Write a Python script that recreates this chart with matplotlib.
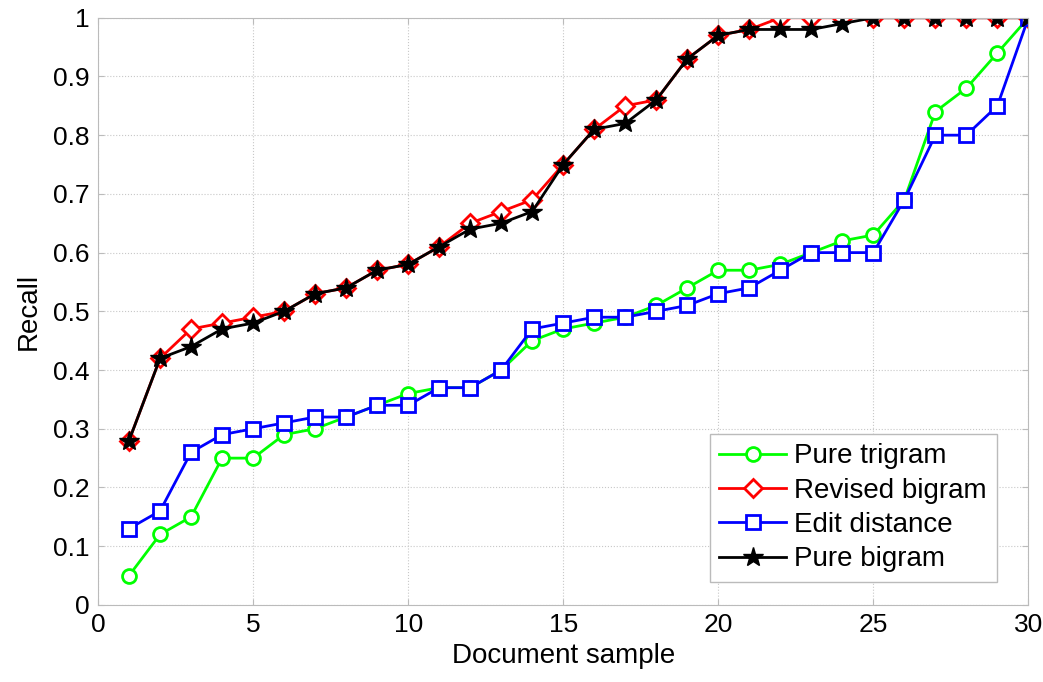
import numpy as np
import matplotlib.pyplot as plt

plt.rcParams["font.family"] = ["Liberation Sans", "DejaVu Sans"]
plt.rcParams["font.size"] = 20

doc = np.arange(1, 31)
pure_trigram = [0.05, 0.12, 0.15, 0.25, 0.25, 0.29, 0.30, 0.32, 0.34, 0.36,
                0.37, 0.37, 0.40, 0.45, 0.47, 0.48, 0.49, 0.51, 0.54, 0.57,
                0.57, 0.58, 0.60, 0.62, 0.63, 0.69, 0.84, 0.88, 0.94, 1.00]
revised_bigram = [0.28, 0.42, 0.47, 0.48, 0.49, 0.50, 0.53, 0.54, 0.57, 0.58,
                  0.61, 0.65, 0.67, 0.69, 0.75, 0.81, 0.85, 0.86, 0.93, 0.97,
                  0.98, 1.00, 1.00, 1.00, 1.00, 1.00, 1.00, 1.00, 1.00, 1.00]
edit_distance = [0.13, 0.16, 0.26, 0.29, 0.30, 0.31, 0.32, 0.32, 0.34, 0.34,
                 0.37, 0.37, 0.40, 0.47, 0.48, 0.49, 0.49, 0.50, 0.51, 0.53,
                 0.54, 0.57, 0.60, 0.60, 0.60, 0.69, 0.80, 0.80, 0.85, 1.00]
pure_bigram = [0.28, 0.42, 0.44, 0.47, 0.48, 0.50, 0.53, 0.54, 0.57, 0.58,
               0.61, 0.64, 0.65, 0.67, 0.75, 0.81, 0.82, 0.86, 0.93, 0.97,
               0.98, 0.98, 0.98, 0.99, 1.00, 1.00, 1.00, 1.00, 1.00, 1.00]

xticks = [0, 5, 10, 15, 20, 25, 30]
yticks = [0, 0.1, 0.2, 0.3, 0.4, 0.5, 0.6, 0.7, 0.8, 0.9, 1]
ytick_labels = ["0", "0.1", "0.2", "0.3", "0.4", "0.5", "0.6", "0.7", "0.8", "0.9", "1"]

fig = plt.figure(figsize=(10.43, 6.82), dpi=100)
ax = fig.add_axes([0.094, 0.113, 0.892, 0.861])

lw, mew = 2, 2
ax.plot(doc, pure_trigram, color="#00ff00", lw=lw, marker="o", ms=10,
        mfc="white", mec="#00ff00", mew=mew, label="Pure trigram")
ax.plot(doc, revised_bigram, color="#ff0000", lw=lw, marker="D", ms=9,
        mfc="white", mec="#ff0000", mew=mew, label="Revised bigram")
ax.plot(doc, edit_distance, color="#0000ff", lw=lw, marker="s", ms=10,
        mfc="white", mec="#0000ff", mew=mew, label="Edit distance")
ax.plot(doc, pure_bigram, color="black", lw=lw, marker="*", ms=15,
        mfc="black", mec="black", mew=1, label="Pure bigram")

ax.set_xlim(0, 30)
ax.set_ylim(0, 1)
ax.set_xticks(xticks)
ax.set_yticks(yticks)
ax.set_yticklabels(ytick_labels)
ax.tick_params(direction="in", length=4, color="#bbbbbb", labelsize=19,
               top=True, right=True, pad=6)
ax.grid(True, ls=":", color="#c8c8c8", lw=0.8)
for s in ax.spines.values():
    s.set_color("#bbbbbb")
ax.set_xlabel("Document sample", fontsize=20, labelpad=4)
ax.set_ylabel("Recall", fontsize=20, labelpad=8)

leg = ax.legend(loc="lower right", bbox_to_anchor=(0.966, 0.039), fontsize=20,
                fancybox=False, framealpha=1, edgecolor="#bbbbbb",
                handlelength=2.4, handletextpad=0.3, borderpad=0.35,
                labelspacing=0.3, borderaxespad=0)

fig.savefig("out.png", dpi=100)
